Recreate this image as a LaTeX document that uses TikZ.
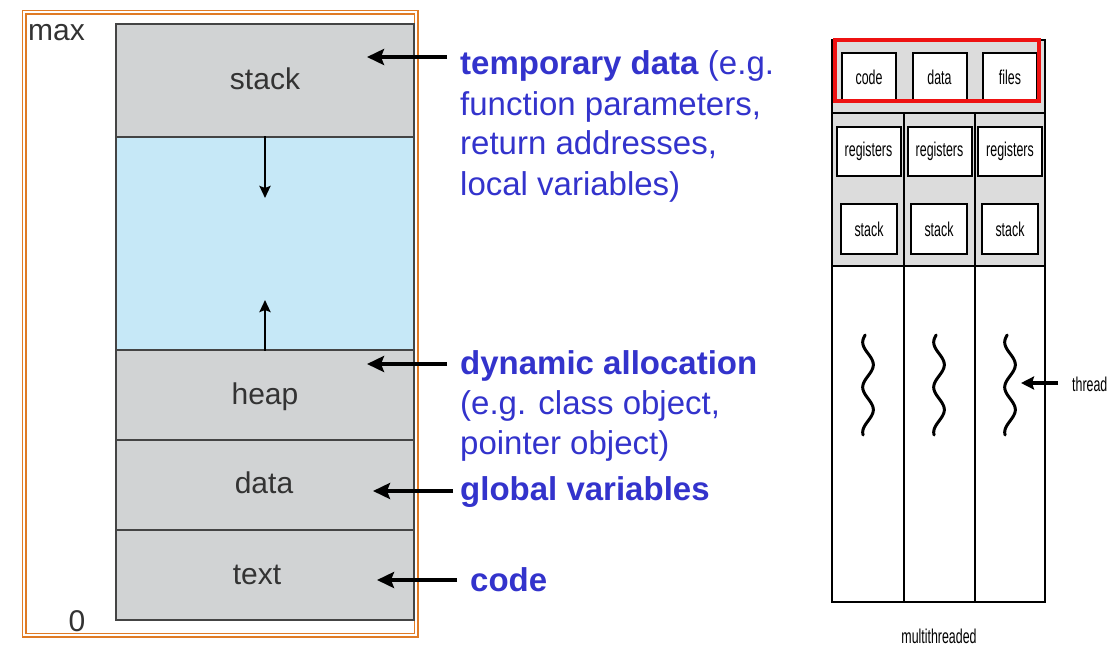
\documentclass[tikz,border=0pt]{standalone}
\usepackage{fontspec}
\setmainfont{Liberation Sans}
\newfontfamily\narrowfont[FakeStretch=0.62]{Liberation Sans}
\usetikzlibrary{arrows.meta}
\definecolor{lblue}{RGB}{51,51,204}
\definecolor{segfill}{RGB}{209,211,212}
\definecolor{freefill}{RGB}{198,232,247}
\definecolor{segline}{RGB}{68,68,68}
\definecolor{orangeline}{RGB}{224,123,37}
\definecolor{labgray}{RGB}{51,51,51}
\definecolor{thgray}{RGB}{220,220,220}
\definecolor{redframe}{RGB}{238,17,17}
\tikzset{
  seg/.style={draw=segline, line width=1.6pt, fill=segfill, minimum width=298pt, inner sep=0pt},
  seglabel/.style={font=\fontsize{30}{36}\selectfont, text=labgray, anchor=base, inner sep=0pt},
  axislabel/.style={font=\fontsize{30}{36}\selectfont, text=labgray, inner sep=0pt},
  note/.style={font=\fontsize{33}{40}\selectfont, text=lblue, anchor=base west, align=left, inner sep=0pt},
  bigarrow/.style={line width=4.5pt, -{Stealth[length=17pt,width=16pt,inset=3pt]}},
  growarrow/.style={line width=2.8pt, -{Stealth[length=12pt,width=11pt,inset=2pt]}},
  thbox/.style={draw=black, line width=2pt, fill=white, inner sep=0pt, font=\narrowfont\fontsize{20}{24}\selectfont},
  thlabel/.style={font=\narrowfont\fontsize{20}{24}\selectfont, inner sep=0pt},
  thline/.style={draw=black, line width=1.4pt},
  wave/.style={line width=3pt, line cap=round},
}
\begin{document}
\begin{tikzpicture}[x=1pt,y=-1pt]
\useasboundingbox (0,0) rectangle (1115,663);
% ---------- left: memory layout ----------
\draw[orangeline, line width=1.6pt] (22.5,10.5) rectangle (418,637);
\draw[orangeline, line width=1.6pt] (26,14) rectangle (414.5,633.5);
\node[seg, minimum height=113pt] (stack) at (265,80.5) {};
\node[seg, fill=freefill, minimum height=213pt] (free) at (265,243.5) {};
\node[seg, minimum height=90pt] (heap) at (265,395) {};
\node[seg, minimum height=90pt] (data) at (265,485) {};
\node[seg, minimum height=90pt] (text) at (265,575) {};
\node[seglabel] (stackl) at (265,90) {stack};
\node[seglabel] (heapl) at (265,404) {heap};
\node[seglabel] (datal) at (264,493) {data};
\node[seglabel] (textl) at (257,584) {text};
\node[axislabel, anchor=base west] (max) at (28,41) {max};
\node[axislabel, anchor=base] (zero) at (77,631) {0};
% growth arrows
\coordinate (downtip) at (265,198);
\coordinate (uptip) at (265,300);
\draw[growarrow] (free.north) -- (downtip);
\draw[growarrow] (free.south) -- (uptip);
% ---------- annotations ----------
\node[note] (n1) at (460,195) {\textbf{temporary data} (e.g.\\function parameters,\\return addresses,\\local variables)};
\node[note] (n2) at (460,454) {\textbf{dynamic allocation}\\(e.g. class object,\\pointer object)};
\node[note] (n3) at (460,500) {\textbf{global variables}};
\node[note] (n4) at (470,591) {\textbf{code}};
\coordinate (a1s) at (447,57);   \coordinate (a1e) at (367,57);
\coordinate (a2s) at (447,364);  \coordinate (a2e) at (367,364);
\coordinate (a3s) at (453,491);  \coordinate (a3e) at (373,491);
\coordinate (a4s) at (457,580);  \coordinate (a4e) at (377,580);
\draw[bigarrow] (a1s) -- (a1e);
\draw[bigarrow] (a2s) -- (a2e);
\draw[bigarrow] (a3s) -- (a3e);
\draw[bigarrow] (a4s) -- (a4e);
% ---------- right: multithreaded process ----------
\fill[thgray] (832,40) rectangle (1045,266);
\draw[thline] (832,40) rectangle (1045,602);
\draw[thline, line width=2pt] (832,113) -- (1045,113);
\draw[thline, line width=2pt] (832,266) -- (1045,266);
\draw[thline] (904,113) -- (904,602);
\draw[thline] (975,113) -- (975,602);
\node[thbox, minimum width=54pt, minimum height=48pt] (code) at (869,77) {code};
\node[thbox, minimum width=54pt, minimum height=48pt] (tdata) at (939.5,77) {data};
\node[thbox, minimum width=54pt, minimum height=48pt] (files) at (1010,77) {files};
\node[thbox, minimum width=64pt, minimum height=49pt] (reg1) at (868.5,151.5) {registers};
\node[thbox, minimum width=64pt, minimum height=49pt] (reg2) at (939.5,151.5) {registers};
\node[thbox, minimum width=64pt, minimum height=49pt] (reg3) at (1010,151.5) {registers};
\node[thbox, minimum width=56pt, minimum height=50pt] (stk1) at (869,229) {stack};
\node[thbox, minimum width=56pt, minimum height=50pt] (stk2) at (939,229) {stack};
\node[thbox, minimum width=56pt, minimum height=50pt] (stk3) at (1010,229) {stack};
\draw[redframe, line width=4.5pt] (835,40) rectangle (1039,101);
\draw[wave] plot[domain=335:435, samples=80, smooth] ({868+5.3*sin(8*(\x-353.5))}, \x);
\draw[wave] plot[domain=335:435, samples=80, smooth] ({939+5.3*sin(8*(\x-353.5))}, \x);
\draw[wave] plot[domain=335:435, samples=80, smooth] ({1010+5.3*sin(8*(\x-353.5))}, \x);
\node[thlabel, anchor=west] (thread) at (1072,384) {thread};
\coordinate (thtip) at (1021,383);
\draw[line width=3.5pt, -{Stealth[length=13pt,width=13pt,inset=2pt]}] (1058,383) -- (thtip);
\node[thlabel] (multi) at (939,636) {multithreaded};
\end{tikzpicture}
\end{document}
